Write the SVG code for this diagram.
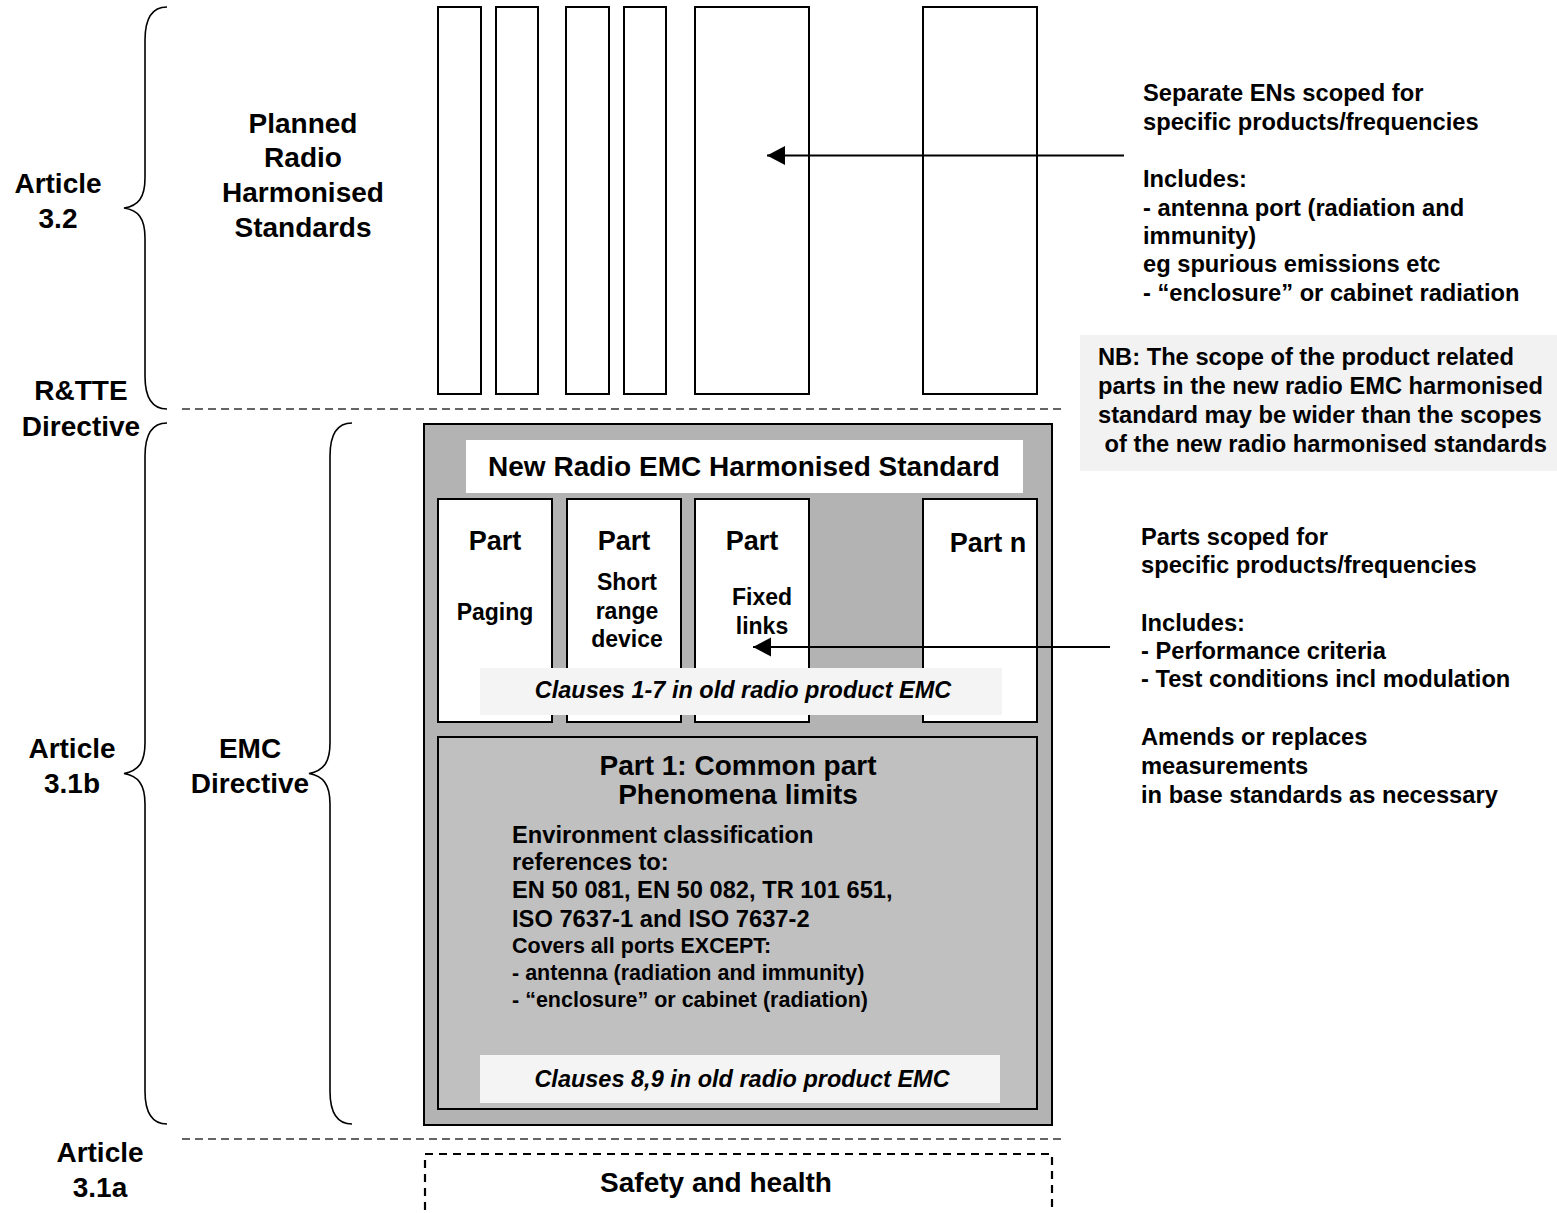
<svg xmlns="http://www.w3.org/2000/svg" width="1557" height="1213" viewBox="0 0 1557 1213">
<style>
text{font-family:"Liberation Sans",Arial,sans-serif;font-weight:bold;fill:#000}
.lbl{font-size:28px;text-anchor:middle}
.part{font-size:27px;text-anchor:middle}
.sub{font-size:23px;text-anchor:middle}
.note{font-size:23.7px}
.small{font-size:21.5px}
.ital{font-size:23.5px;font-style:italic;text-anchor:middle}
.box{fill:#fff;stroke:#000;stroke-width:2}
.brace{fill:none;stroke:#000;stroke-width:1.6}
.dash{stroke:#333;stroke-width:1.5;stroke-dasharray:8 5;fill:none}
.conn{stroke:#000;stroke-width:2;fill:none}
</style>
<defs>
<marker id="ah" markerUnits="userSpaceOnUse" markerWidth="20" markerHeight="20" refX="18" refY="10" orient="auto">
<path d="M0,0.5 L18,10 L0,19.5 Z" fill="#000"/>
</marker>
</defs>
<rect width="1557" height="1213" fill="#fff"/>

<g id="left-labels">
<text class="lbl" x="58" y="193">Article</text>
<text class="lbl" x="58" y="228">3.2</text>
<text class="lbl" x="81" y="400">R&amp;TTE</text>
<text class="lbl" x="81" y="436">Directive</text>
<text class="lbl" x="72" y="758">Article</text>
<text class="lbl" x="72" y="793">3.1b</text>
<text class="lbl" x="250" y="758">EMC</text>
<text class="lbl" x="250" y="793">Directive</text>
<text class="lbl" x="100" y="1162">Article</text>
<text class="lbl" x="100" y="1197">3.1a</text>
</g>

<g id="braces">
<path class="brace" d="M167,7 C152,7 145,18 145,40 L145,178 C145,198 138,206 124,208 C138,210 145,218 145,238 L145,376 C145,398 152,409 167,409"/>
<path class="brace" d="M167,423 C152,423 145,434 145,456 L145,743 C145,763 138,771 124,773.5 C138,776 145,784 145,804 L145,1091 C145,1113 152,1124 167,1124"/>
<path class="brace" d="M352,423 C337,423 330,434 330,456 L330,743 C330,763 323,771 309,773.5 C323,776 330,784 330,804 L330,1091 C330,1113 337,1124 352,1124"/>
</g>

<g id="planned">
<text class="lbl" x="303" y="133">Planned</text>
<text class="lbl" x="303" y="167">Radio</text>
<text class="lbl" x="303" y="202">Harmonised</text>
<text class="lbl" x="303" y="237">Standards</text>
<rect class="box" x="438" y="7" width="43" height="387"/>
<rect class="box" x="496" y="7" width="42" height="387"/>
<rect class="box" x="566" y="7" width="43" height="387"/>
<rect class="box" x="624" y="7" width="42" height="387"/>
<rect class="box" x="695" y="7" width="114" height="387"/>
<rect class="box" x="923" y="7" width="114" height="387"/>
</g>

<g id="separators">
<line class="dash" x1="182" y1="409" x2="1063" y2="409"/>
<line class="dash" x1="182" y1="1139" x2="1063" y2="1139"/>
</g>

<g id="radio-emc">
<rect x="424" y="424" width="628" height="701" fill="#b3b3b3" stroke="#000" stroke-width="2"/>
<rect x="466" y="440" width="557" height="53" fill="#fff"/>
<text x="744" y="476" style="font-size:28px;text-anchor:middle">New Radio EMC Harmonised Standard</text>
<rect class="box" x="438" y="499" width="114" height="223"/>
<rect class="box" x="567" y="499" width="114" height="223"/>
<rect class="box" x="695" y="499" width="114" height="223"/>
<rect class="box" x="923" y="499" width="114" height="223"/>
<text class="part" x="495" y="550">Part</text>
<text class="part" x="624" y="550">Part</text>
<text class="part" x="752" y="550">Part</text>
<text class="part" x="988" y="552">Part n</text>
<text class="sub" x="495" y="620">Paging</text>
<text class="sub" x="627" y="590">Short</text>
<text class="sub" x="627" y="619">range</text>
<text class="sub" x="627" y="647">device</text>
<text class="sub" x="762" y="605">Fixed</text>
<text class="sub" x="762" y="634">links</text>
<rect x="480" y="668" width="522" height="47" fill="#f4f4f4"/>
<text class="ital" x="743" y="698">Clauses 1-7 in old radio product EMC</text>
<rect x="438" y="737" width="599" height="372" fill="#c0c0c0" stroke="#000" stroke-width="2"/>
<text x="738" y="775" style="font-size:28px;text-anchor:middle">Part 1: Common part</text>
<text x="738" y="804" style="font-size:28px;text-anchor:middle">Phenomena limits</text>
<text class="note" x="512" y="843">Environment classification</text>
<text class="note" x="512" y="870">references to:</text>
<text class="note" x="512" y="898">EN 50 081, EN 50 082, TR 101 651,</text>
<text class="note" x="512" y="927">ISO 7637-1 and ISO 7637-2</text>
<text class="small" x="512" y="953">Covers all ports EXCEPT:</text>
<text class="small" x="512" y="980">- antenna (radiation and immunity)</text>
<text class="small" x="512" y="1007">- “enclosure” or cabinet (radiation)</text>
<rect x="480" y="1055" width="520" height="48" fill="#f4f4f4"/>
<text class="ital" x="742" y="1087">Clauses 8,9 in old radio product EMC</text>
</g>

<g id="safety">
<rect x="425" y="1154" width="627" height="80" fill="none" stroke="#000" stroke-width="2.2" stroke-dasharray="8 6"/>
<text x="716" y="1192" style="font-size:28px;text-anchor:middle">Safety and health</text>
</g>

<g id="note-top">
<text class="note" x="1143" y="101">Separate ENs scoped for</text>
<text class="note" x="1143" y="130">specific products/frequencies</text>
<text class="note" x="1143" y="187">Includes:</text>
<text class="note" x="1143" y="216">- antenna port (radiation and</text>
<text class="note" x="1143" y="244">immunity)</text>
<text class="note" x="1143" y="272">eg spurious emissions etc</text>
<text class="note" x="1143" y="301">- “enclosure” or cabinet radiation</text>
</g>

<g id="note-nb">
<rect x="1080" y="335" width="477" height="136" fill="#f2f2f2"/>
<text class="note" x="1098" y="365">NB: The scope of the product related</text>
<text class="note" x="1098" y="394">parts in the new radio EMC harmonised</text>
<text class="note" x="1098" y="423">standard may be wider than the scopes</text>
<text class="note" x="1098" y="452" xml:space="preserve"> of the new radio harmonised standards</text>
</g>

<g id="note-parts">
<text class="note" x="1141" y="545">Parts scoped for</text>
<text class="note" x="1141" y="573">specific products/frequencies</text>
<text class="note" x="1141" y="631">Includes:</text>
<text class="note" x="1141" y="659">- Performance criteria</text>
<text class="note" x="1141" y="687">- Test conditions incl modulation</text>
<text class="note" x="1141" y="745">Amends or replaces</text>
<text class="note" x="1141" y="774">measurements</text>
<text class="note" x="1141" y="803">in base standards as necessary</text>
</g>

<g id="connectors">
<line class="conn" x1="1124" y1="155.5" x2="767" y2="155.5" marker-end="url(#ah)"/>
<line class="conn" x1="1110" y1="647" x2="753" y2="647" marker-end="url(#ah)"/>
</g>
</svg>
